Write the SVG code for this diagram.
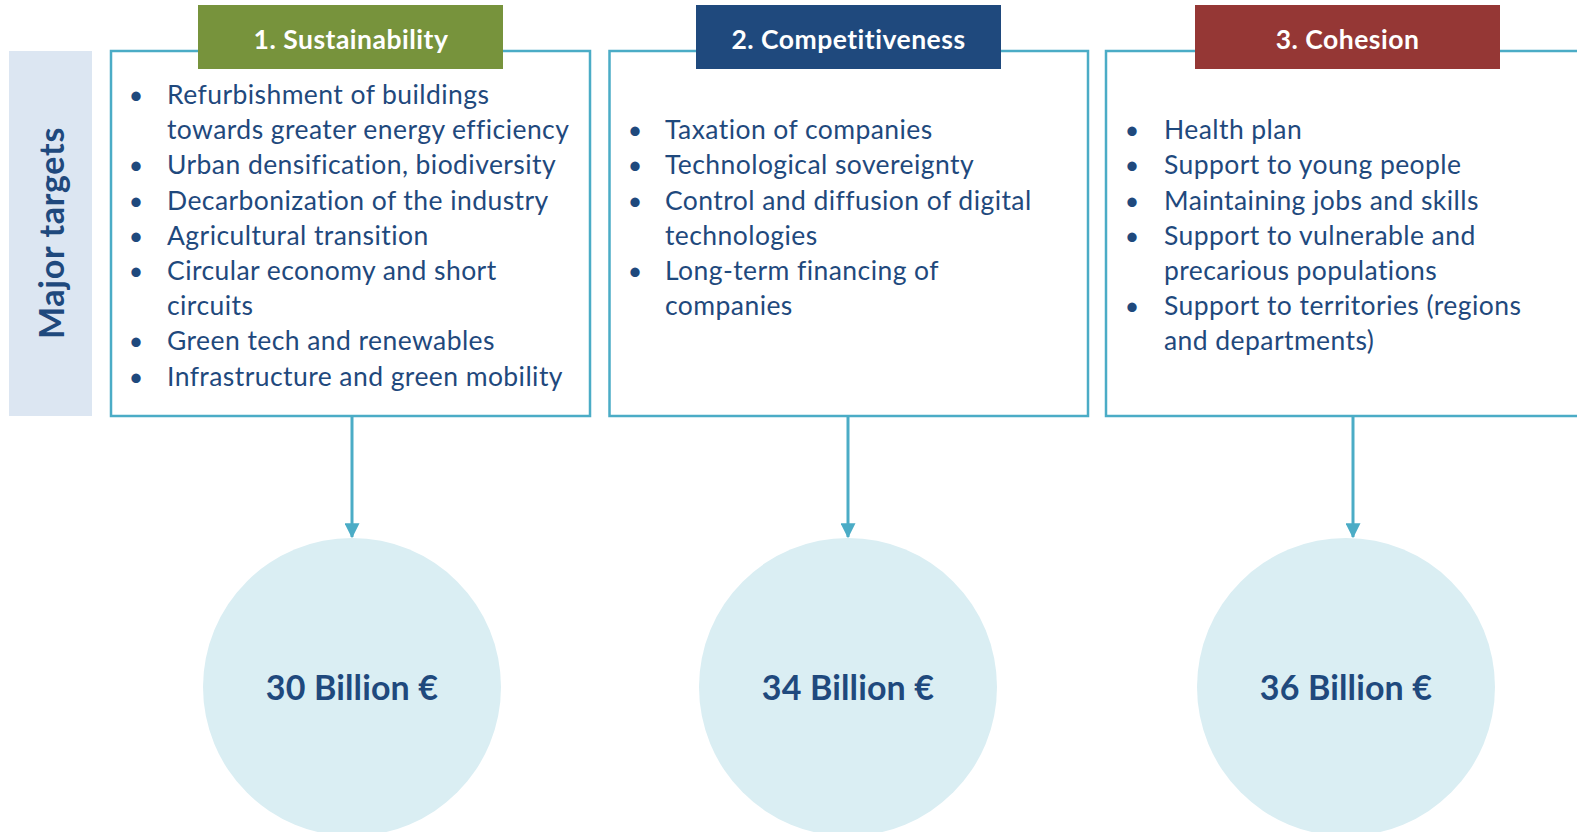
<svg xmlns="http://www.w3.org/2000/svg" width="1577" height="832" viewBox="0 0 1577 832">
<defs>
<style>
.box{fill:#FFFFFF;stroke:#4BACC6;stroke-width:2.5}
.item{font-family:Lato,"Liberation Sans",sans-serif;font-size:26.5px;letter-spacing:0.43px;fill:#1F497D}
.bul{font-family:Lato,"Liberation Sans",sans-serif;font-size:25px;fill:#1F497D;text-anchor:middle}
.hdr{font-family:Lato,"Liberation Sans",sans-serif;font-size:26.5px;letter-spacing:0.5px;font-weight:bold;fill:#FFFFFF;text-anchor:middle}
.amt{font-family:Lato,"Liberation Sans",sans-serif;font-size:34px;letter-spacing:0.15px;font-weight:bold;fill:#1F497D;text-anchor:middle}
.circ{fill:#DAEEF3}
.conn{stroke:#4BACC6;stroke-width:3;fill:none}
</style>
<marker id="arr" markerWidth="5" markerHeight="5" refX="4.6" refY="2.5" orient="auto" markerUnits="strokeWidth" viewBox="0 0 5 5">
<path d="M0,0 L5,2.5 L0,5 Z" fill="#4BACC6"/>
</marker>
</defs>
<rect width="1577" height="832" fill="#FFFFFF"/>
<g id="band">
<rect x="9" y="51" width="83" height="365" fill="#DCE6F2"/>
<text transform="translate(63.5,233) rotate(-90)" font-family="Lato,'Liberation Sans',sans-serif" font-size="34" letter-spacing="0.7" font-weight="bold" fill="#1F497D" text-anchor="middle">Major targets</text>
</g>
<g id="box1">
<rect class="box" x="111" y="51" width="479" height="365"/>
<rect x="198" y="5" width="305" height="64" fill="#77933C"/>
<text class="hdr" x="351" y="48.5">1. Sustainability</text>
<text class="bul" x="136" y="104">•</text><text class="item" x="167" y="104">Refurbishment of buildings</text>
<text class="item" x="167" y="139.2">towards greater energy efficiency</text>
<text class="bul" x="136" y="174.4">•</text><text class="item" x="167" y="174.4">Urban densification, biodiversity</text>
<text class="bul" x="136" y="209.6">•</text><text class="item" x="167" y="209.6">Decarbonization of the industry</text>
<text class="bul" x="136" y="244.8">•</text><text class="item" x="167" y="244.8">Agricultural transition</text>
<text class="bul" x="136" y="280">•</text><text class="item" x="167" y="280">Circular economy and short</text>
<text class="item" x="167" y="315.2">circuits</text>
<text class="bul" x="136" y="350.4">•</text><text class="item" x="167" y="350.4">Green tech and renewables</text>
<text class="bul" x="136" y="385.6">•</text><text class="item" x="167" y="385.6">Infrastructure and green mobility</text>
</g>
<g id="box2">
<rect class="box" x="609.5" y="51" width="478.5" height="365"/>
<rect x="696" y="5" width="305" height="64" fill="#1F497D"/>
<text class="hdr" x="848.5" y="48.5">2. Competitiveness</text>
<text class="bul" x="635" y="139.2">•</text><text class="item" x="665" y="139.2">Taxation of companies</text>
<text class="bul" x="635" y="174.4">•</text><text class="item" x="665" y="174.4">Technological sovereignty</text>
<text class="bul" x="635" y="209.6">•</text><text class="item" x="665" y="209.6">Control and diffusion of digital</text>
<text class="item" x="665" y="244.8">technologies</text>
<text class="bul" x="635" y="280">•</text><text class="item" x="665" y="280">Long-term financing of</text>
<text class="item" x="665" y="315.2">companies</text>
</g>
<g id="box3">
<rect class="box" x="1106" y="51" width="480" height="365"/>
<rect x="1195" y="5" width="305" height="64" fill="#953735"/>
<text class="hdr" x="1347.5" y="48.5">3. Cohesion</text>
<text class="bul" x="1132" y="139.2">•</text><text class="item" x="1164" y="139.2">Health plan</text>
<text class="bul" x="1132" y="174.4">•</text><text class="item" x="1164" y="174.4">Support to young people</text>
<text class="bul" x="1132" y="209.6">•</text><text class="item" x="1164" y="209.6">Maintaining jobs and skills</text>
<text class="bul" x="1132" y="244.8">•</text><text class="item" x="1164" y="244.8">Support to vulnerable and</text>
<text class="item" x="1164" y="280">precarious populations</text>
<text class="bul" x="1132" y="315.2">•</text><text class="item" x="1164" y="315.2">Support to territories (regions</text>
<text class="item" x="1164" y="350.4">and departments)</text>
</g>
<g id="circle1">
<circle class="circ" cx="352" cy="687" r="149"/>
<text class="amt" x="352" y="699.5">30 Billion €</text>
</g>
<g id="circle2">
<circle class="circ" cx="848" cy="687" r="149"/>
<text class="amt" x="848" y="699.5">34 Billion €</text>
</g>
<g id="circle3">
<circle class="circ" cx="1346" cy="687" r="149"/>
<text class="amt" x="1346" y="699.5">36 Billion €</text>
</g>
<g id="connectors">
<line class="conn" x1="352" y1="417" x2="352" y2="537" marker-end="url(#arr)"/>
<line class="conn" x1="848" y1="417" x2="848" y2="537" marker-end="url(#arr)"/>
<line class="conn" x1="1353" y1="417" x2="1353" y2="537" marker-end="url(#arr)"/>
</g>
</svg>
